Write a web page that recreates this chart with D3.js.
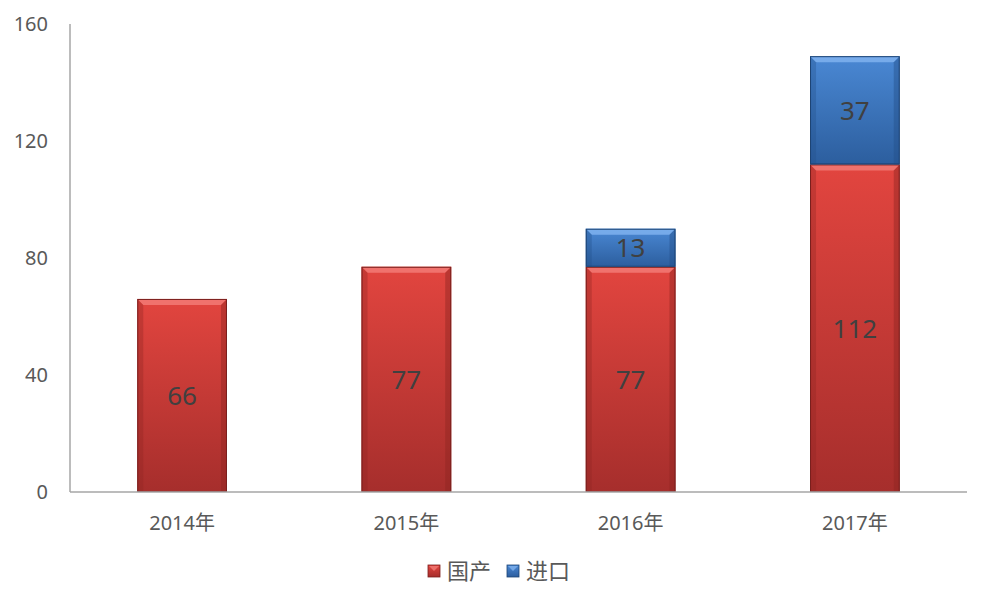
<!DOCTYPE html>
<html><head><meta charset="utf-8">
<script src="https://cdn.jsdelivr.net/npm/d3@7"></script>
<style>body{margin:0;background:#fff;}svg{display:block;}</style>
</head><body>
<svg id="c" width="990" height="604"></svg>
<script>
const categories = ["2014年","2015年","2016年","2017年"];
const domestic = [66, 77, 77, 112];
const imported = [0, 0, 13, 37];
const seriesNames = ["国产","进口"];
const yTicks = [0,40,80,120,160];

const svg = d3.select("#c");
const font = "'Noto Sans','Noto Sans CJK SC',sans-serif";
const m = {l:70, r:23, t:24, b:112};
const W = 990, H = 604;
const x = d3.scaleBand().domain(categories).range([m.l, W-m.r]).paddingInner(0.6).paddingOuter(0.3);
const y = d3.scaleLinear().domain([0,160]).range([H-m.b, m.t]);

const defs = svg.append("defs");
function grad(id, c1, c2){
  const g = defs.append("linearGradient").attr("id",id).attr("x1",0).attr("y1",0).attr("x2",0).attr("y2",1);
  g.append("stop").attr("offset","0%").attr("stop-color",c1);
  g.append("stop").attr("offset","100%").attr("stop-color",c2);
}
grad("gRed","#e2453f","#a62e2c");
grad("gBlue","#4a88d4","#2c5e9e");
const pal = {
  red:{fill:"url(#gRed)", top:"#f27a76", side:"#8e2522", edge:"#7a1f1d"},
  blue:{fill:"url(#gBlue)", top:"#7fb2ee", side:"#23508a", edge:"#1d4474"}
};

const segs = [];
categories.forEach((c,i)=>{
  segs.push({cat:c, y0:0, y1:domestic[i], v:domestic[i], p:pal.red});
  if(imported[i]>0) segs.push({cat:c, y0:domestic[i], y1:domestic[i]+imported[i], v:imported[i], p:pal.blue});
});

svg.append("line").attr("x1",m.l).attr("x2",m.l).attr("y1",y(160)).attr("y2",y(0)).attr("stroke","#a6a6a6").attr("stroke-width",1.5);

const bw = x.bandwidth();
const bev = 6;
const g = svg.append("g");
segs.forEach(s=>{
  const x0 = x(s.cat), yt = y(s.y1), yb = y(s.y0), h = yb-yt;
  const gg = g.append("g");
  gg.append("rect").attr("x",x0).attr("y",yt).attr("width",bw).attr("height",h).attr("fill",s.p.fill);
  gg.append("path").attr("d",`M${x0},${yt}L${x0+bw},${yt}L${x0+bw-bev},${yt+bev}L${x0+bev},${yt+bev}Z`).attr("fill",s.p.top).attr("opacity",0.85);
  gg.append("path").attr("d",`M${x0},${yt}L${x0+bev},${yt+bev}L${x0+bev},${yb}L${x0},${yb}Z`).attr("fill",s.p.side).attr("opacity",0.35);
  gg.append("path").attr("d",`M${x0+bw},${yt}L${x0+bw-bev},${yt+bev}L${x0+bw-bev},${yb}L${x0+bw},${yb}Z`).attr("fill",s.p.side).attr("opacity",0.45);
  gg.append("rect").attr("x",x0+0.5).attr("y",yt+0.5).attr("width",bw-1).attr("height",h-1).attr("fill","none").attr("stroke",s.p.edge).attr("stroke-width",1);
  gg.append("text").attr("x",x0+bw/2).attr("y",(yt+yb)/2).attr("dy","0.36em").attr("text-anchor","middle")
    .attr("font-family",font).attr("font-size",26).attr("fill","#404040").text(s.v);
});

svg.append("line").attr("x1",m.l).attr("x2",W-m.r).attr("y1",y(0)).attr("y2",y(0)).attr("stroke","#a6a6a6").attr("stroke-width",1.5);

svg.selectAll(".yt").data(yTicks).enter().append("text").attr("x",48).attr("y",d=>y(d)).attr("dy","0.36em")
  .attr("text-anchor","end").attr("font-family",font).attr("font-size",20).attr("fill","#595959").text(d=>d);
svg.selectAll(".xt").data(categories).enter().append("text").attr("x",d=>x(d)+bw/2).attr("y",y(0)+31)
  .attr("dy","0.36em").attr("text-anchor","middle").attr("font-family",font).attr("font-size",20).attr("fill","#595959").text(d=>d);

const leg = [{n:seriesNames[0],p:pal.red,x:428},{n:seriesNames[1],p:pal.blue,x:507}];
leg.forEach(l=>{
  const ly = 571;
  svg.append("rect").attr("x",l.x).attr("y",ly-6).attr("width",12).attr("height",12).attr("fill",l.p.fill).attr("stroke",l.p.edge).attr("stroke-width",0.8);
  svg.append("path").attr("d",`M${l.x+1},${ly-5}L${l.x+11},${ly-5}L${l.x+6},${ly}Z`).attr("fill",l.p.top).attr("opacity",0.8);
  svg.append("text").attr("x",l.x+19).attr("y",ly).attr("dy","0.36em").attr("font-family",font).attr("font-size",22).attr("fill","#595959").text(l.n);
});
</script>
</body></html>
